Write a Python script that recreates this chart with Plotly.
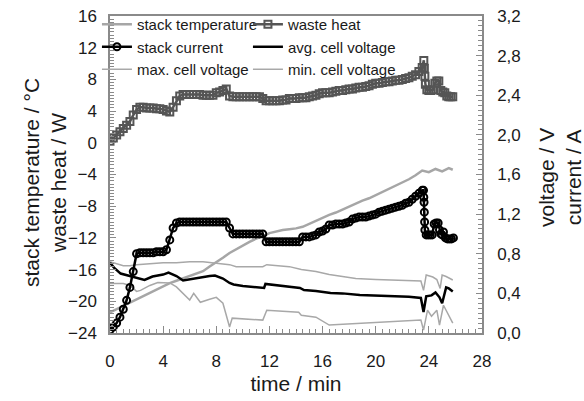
import plotly.graph_objects as go

# ---- data -------------------------------------------------------------
temp_t = [0, 0.5, 1, 1.5, 2, 2.5, 3, 3.5, 4, 4.5, 5, 5.5, 6, 6.5, 7, 7.5, 8, 8.5, 9, 9.5,
          10, 10.5, 11, 11.5, 12, 12.5, 13, 13.5, 14, 14.5, 15, 15.5, 16, 16.5, 17, 17.5,
          18, 18.5, 19, 19.5, 20, 20.5, 21, 21.5, 22, 22.5, 23, 23.5, 24, 24.5, 25, 25.5, 25.8]
stack_temperature = [-21.4, -21.0, -20.6, -20.2, -19.7, -19.3, -18.9, -18.5, -18.1, -17.7,
                     -17.4, -17.1, -16.8, -16.5, -16.2, -15.6, -15.1, -14.5, -13.9, -13.4,
                     -13.0, -12.5, -12.1, -11.8, -11.4, -11.2, -11.0, -10.9, -10.8, -10.6,
                     -10.2, -9.8, -9.5, -9.1, -8.8, -8.4, -8.1, -7.7, -7.3, -7.0,
                     -6.6, -6.2, -5.8, -5.5, -5.1, -4.6, -4.1, -3.5, -3.7, -3.3, -3.6, -3.2, -3.4]

heat_t = [0, 0.25, 0.5, 0.75, 1, 1.25, 1.5, 1.75, 2, 2.25, 2.5, 2.75, 3, 3.25, 3.5, 3.75,
          4, 4.25, 4.5, 4.75, 5, 5.25, 5.5, 5.75, 6, 6.25, 6.5, 6.75, 7, 7.25, 7.5, 7.75,
          8, 8.25, 8.5, 8.75, 9, 9.25, 9.5, 9.75, 10, 10.25, 10.5, 10.75, 11, 11.25, 11.5, 11.75,
          12, 12.25, 12.5, 12.75, 13, 13.25, 13.5, 13.75, 14, 14.25, 14.5, 14.75, 15, 15.25,
          15.5, 15.75, 16, 16.25, 16.5, 16.75, 17, 17.25, 17.5, 17.75, 18, 18.25, 18.5, 18.75,
          19, 19.25, 19.5, 19.75, 20, 20.25, 20.5, 20.75, 21, 21.25, 21.5, 21.75, 22, 22.25,
          22.5, 22.75, 23, 23.25, 23.5, 23.62, 23.66, 23.7, 23.74, 23.85, 24, 24.15, 24.3,
          24.45, 24.6, 24.75, 24.9, 25.05, 25.2, 25.35, 25.5, 25.65, 25.8]
waste_heat = [0.2, 0.6, 1.0, 1.4, 1.8, 2.2, 2.7, 3.5, 4.2, 4.5, 4.5, 4.4, 4.4, 4.4, 4.3, 4.3,
              4.2, 4.0, 3.9, 4.5, 5.3, 5.9, 6.1, 6.1, 6.1, 6.1, 6.1, 6.1, 6.0, 6.0, 6.0, 6.0,
              6.3, 6.4, 6.6, 6.8, 5.9, 5.8, 5.8, 5.8, 5.8, 5.8, 5.8, 5.8, 5.8, 5.8, 5.6, 5.3,
              5.3, 5.3, 5.3, 5.3, 5.4, 5.4, 5.6, 5.6, 5.6, 5.7, 5.7, 5.7, 5.8, 5.9,
              6.0, 6.2, 6.3, 6.3, 6.3, 6.4, 6.5, 6.6, 6.6, 6.7, 6.8, 6.8, 6.9, 7.0,
              7.0, 7.1, 7.2, 7.4, 7.5, 7.5, 7.6, 7.7, 7.7, 7.8, 7.9, 7.9, 8.0, 8.1,
              8.2, 8.4, 8.6, 9.0, 9.5, 10.4, 9.4, 8.4, 7.4, 6.7, 6.6, 6.6, 6.7,
              7.5, 7.8, 7.8, 6.6, 6.4, 6.3, 5.9, 5.8, 5.8, 5.8]

current_t = [0, 0.25, 0.5, 0.75, 1, 1.25, 1.5, 1.75, 2, 2.25, 2.5, 2.75, 3, 3.25, 3.5, 3.75,
             4, 4.25, 4.5, 4.75, 5, 5.25, 5.5, 5.75, 6, 6.25, 6.5, 6.75, 7, 7.25, 7.5, 7.75,
             8, 8.25, 8.5, 8.75, 9, 9.25, 9.5, 9.75, 10, 10.25, 10.5, 10.75, 11, 11.25, 11.5, 11.75,
             12, 12.25, 12.5, 12.75, 13, 13.25, 13.5, 13.75, 14, 14.25, 14.5, 14.75, 15, 15.25,
             15.5, 15.75, 16, 16.25, 16.5, 16.75, 17, 17.25, 17.5, 17.75, 18, 18.25, 18.5, 18.75,
             19, 19.25, 19.5, 19.75, 20, 20.25, 20.5, 20.75, 21, 21.25, 21.5, 21.75, 22, 22.25,
             22.5, 22.75, 23, 23.25, 23.5, 23.6, 23.62, 23.64, 23.66, 23.68, 23.7, 23.8, 23.95,
             24.1, 24.25, 24.4, 24.55, 24.7, 24.8, 24.9, 25.0, 25.1, 25.25, 25.4, 25.55, 25.7, 25.85]
stack_current = [0.03, 0.06, 0.10, 0.16, 0.24, 0.33, 0.46, 0.62, 0.80, 0.81, 0.81, 0.81, 0.81, 0.81, 0.82, 0.82,
                 0.82, 0.84, 0.94, 1.06, 1.11, 1.12, 1.12, 1.12, 1.12, 1.12, 1.12, 1.12, 1.12, 1.12, 1.12, 1.12,
                 1.12, 1.12, 1.12, 1.12, 1.06, 1.00, 1.00, 1.00, 1.00, 1.00, 1.00, 1.00, 1.00, 1.00, 1.00, 0.92,
                 0.92, 0.92, 0.92, 0.92, 0.92, 0.92, 0.92, 0.92, 0.92, 0.92, 0.97, 0.97, 0.97, 0.98,
                 0.99, 1.02, 1.03, 1.05, 1.09, 1.09, 1.10, 1.10, 1.10, 1.11, 1.12, 1.15, 1.16, 1.17,
                 1.17, 1.17, 1.18, 1.19, 1.20, 1.22, 1.23, 1.24, 1.25, 1.26, 1.27, 1.28, 1.29, 1.31,
                 1.32, 1.35, 1.38, 1.41, 1.44, 1.44, 1.37, 1.32, 1.22, 1.12, 1.04, 0.99, 0.99,
                 0.99, 0.99, 1.10, 1.11, 1.11, 1.04, 1.00, 0.99, 1.02, 0.96, 0.95, 0.95, 0.95, 0.96]

avg_t = [0, 0.3, 0.8, 1.2, 1.9, 2.6, 3.2, 4.0, 4.4, 5.0, 5.5, 6.5, 7.5, 7.9, 8.5, 9.0, 9.3, 10.0,
         11.6, 11.7, 12.5, 13.5, 14.3, 14.6, 15.5, 16.6, 17.5, 18.8, 20.0, 21.0, 22.5, 23.4, 23.6,
         23.8, 24.2, 24.5, 24.8, 25.0, 25.3, 25.5, 25.8]
avg_cell_voltage = [0.71, 0.66, 0.60, 0.585, 0.555, 0.535, 0.57, 0.59, 0.61, 0.575, 0.53, 0.555,
                    0.575, 0.58, 0.55, 0.505, 0.49, 0.475, 0.455, 0.495, 0.485, 0.47, 0.455, 0.434,
                    0.425, 0.404, 0.40, 0.384, 0.38, 0.374, 0.365, 0.354, 0.212, 0.37, 0.38, 0.41,
                    0.36, 0.30, 0.46, 0.45, 0.42]

max_t = [0, 0.5, 1.0, 1.5, 2.0, 3.0, 4.0, 5.0, 6.0, 7.0, 7.8, 8.5, 9.0, 9.5, 10.5, 11.5, 11.8,
         12.5, 13.5, 14.4, 15.5, 16.5, 17.5, 18.5, 20.0, 21.5, 23.4, 23.6, 23.8, 24.3, 24.6, 24.85,
         25.0, 25.3, 25.8]
max_cell_voltage = [0.72, 0.70, 0.68, 0.68, 0.69, 0.70, 0.71, 0.71, 0.72, 0.72, 0.71, 0.70, 0.69,
                    0.67, 0.67, 0.67, 0.69, 0.68, 0.67, 0.64, 0.62, 0.59, 0.57, 0.55, 0.54, 0.535,
                    0.525, 0.43, 0.585, 0.565, 0.54, 0.45, 0.585, 0.57, 0.535]

min_t = [0, 1.0, 1.5, 2.0, 2.3, 3.0, 3.6, 4.5, 5.0, 5.5, 6.0, 6.3, 6.8, 7.5, 8.0, 8.5, 9.0, 9.2,
         10.5, 11.5, 11.8, 13.0, 14.2, 14.4, 15.5, 16.5, 18.0, 19.0, 21.5, 23.4, 23.6, 23.9, 24.2,
         24.6, 24.8, 25.1, 25.8]
min_cell_voltage = [0.50, 0.50, 0.48, 0.42, 0.43, 0.48, 0.51, 0.505, 0.465, 0.40, 0.333, 0.40,
                    0.31, 0.34, 0.36, 0.30, 0.06, 0.15, 0.14, 0.13, 0.23, 0.22, 0.21, 0.18, 0.16,
                    0.08, 0.09, 0.10, 0.11, 0.13, 0.03, 0.23, 0.17, 0.23, 0.08, 0.28, 0.10]

x_ticks = [0, 4, 8, 12, 16, 20, 24, 28]
left_ticks = [16, 12, 8, 4, 0, -4, -8, -12, -16, -20, -24]
right_ticks = [3.2, 2.8, 2.4, 2.0, 1.6, 1.2, 0.8, 0.4, 0.0]

# ---- styling ----------------------------------------------------------
FONT = "Liberation Sans, Arial, Helvetica, sans-serif"
AXIS_GREY = "#8a8a8a"
TEXT = "#1a1a1a"
TITLE_FONT = dict(family=FONT, size=21, color=TEXT)

fig = go.Figure()

fig.add_trace(go.Scatter(
    x=temp_t, y=stack_temperature, name="stack temperature", mode="lines",
    line=dict(color="#a6a6a6", width=2.5), yaxis="y", legendrank=1))
fig.add_trace(go.Scatter(
    x=max_t, y=max_cell_voltage, name="max. cell voltage", mode="lines",
    line=dict(color="#a8a8a8", width=1.5), yaxis="y2", legendrank=5))
fig.add_trace(go.Scatter(
    x=min_t, y=min_cell_voltage, name="min. cell voltage", mode="lines",
    line=dict(color="#a8a8a8", width=1.5), yaxis="y2", legendrank=6))
fig.add_trace(go.Scatter(
    x=avg_t, y=avg_cell_voltage, name="avg. cell voltage", mode="lines",
    line=dict(color="#000000", width=2.5), yaxis="y2", legendrank=4))
fig.add_trace(go.Scatter(
    x=current_t, y=stack_current, name="stack current", mode="lines+markers",
    line=dict(color="#000000", width=2.5),
    marker=dict(symbol="circle-open", size=7, color="#000000", line=dict(width=2)),
    yaxis="y2", legendrank=3))
fig.add_trace(go.Scatter(
    x=heat_t, y=waste_heat, name="waste heat", mode="lines+markers",
    line=dict(color="#555555", width=2.5),
    marker=dict(symbol="square-open", size=7, color="#555555", line=dict(width=2)),
    yaxis="y", legendrank=2))

axis_common = dict(
    showline=True, linecolor=AXIS_GREY, linewidth=1.5,
    ticks="inside", tickcolor=AXIS_GREY, tickwidth=1,
    showgrid=False, zeroline=False,
    tickfont=dict(family=FONT, size=17, color=TEXT),
)

fig.update_layout(
    width=584, height=401,
    margin=dict(l=110, r=102, t=16, b=68, autoexpand=False),
    paper_bgcolor="white", plot_bgcolor="white",
    separators=",.",
    font=dict(family=FONT, color=TEXT),
    xaxis=dict(
        **axis_common, range=[0, 28], tickvals=x_ticks, ticklen=7, mirror=True,
        minor=dict(dtick=0.5, ticks="inside", ticklen=4, tickcolor=AXIS_GREY),
        ticklabelstandoff=12,
        title=dict(text="time / min", font=TITLE_FONT, standoff=6),
    ),
    yaxis=dict(
        **axis_common, range=[-24, 16], tickvals=left_ticks, ticklen=6,
        minor=dict(dtick=0.4, ticks="inside", ticklen=4, tickcolor=AXIS_GREY),
        ticklabelstandoff=8,
    ),
    yaxis2=dict(
        **axis_common, range=[0, 3.2], tickvals=right_ticks, tickformat=".1f", ticklen=6,
        overlaying="y", side="right",
        minor=dict(dtick=0.05, ticks="inside", ticklen=4, tickcolor=AXIS_GREY),
        ticklabelstandoff=10,
    ),
    legend=dict(
        orientation="h", xref="container", yref="container",
        x=0.166, xanchor="left", y=0.980, yanchor="top",
        entrywidth=106, entrywidthmode="pixels",
        bgcolor="rgba(0,0,0,0)", font=dict(family=FONT, size=15, color=TEXT),
        tracegroupgap=0, itemwidth=30,
    ),
    showlegend=True,
    annotations=[
        # left axis title (two quantities share the left scale)
        dict(text="stack temperature / °C<br>waste heat / W", textangle=-90,
             xref="paper", yref="paper", x=0, y=0.473, xshift=-65,
             xanchor="center", yanchor="middle", showarrow=False, font=TITLE_FONT),
        # right axis title
        dict(text="voltage / V<br>current / A", textangle=-90,
             xref="paper", yref="paper", x=1, y=0.489, xshift=78,
             xanchor="center", yanchor="middle", showarrow=False, font=TITLE_FONT),
    ],
)

fig.write_html("out.html")
